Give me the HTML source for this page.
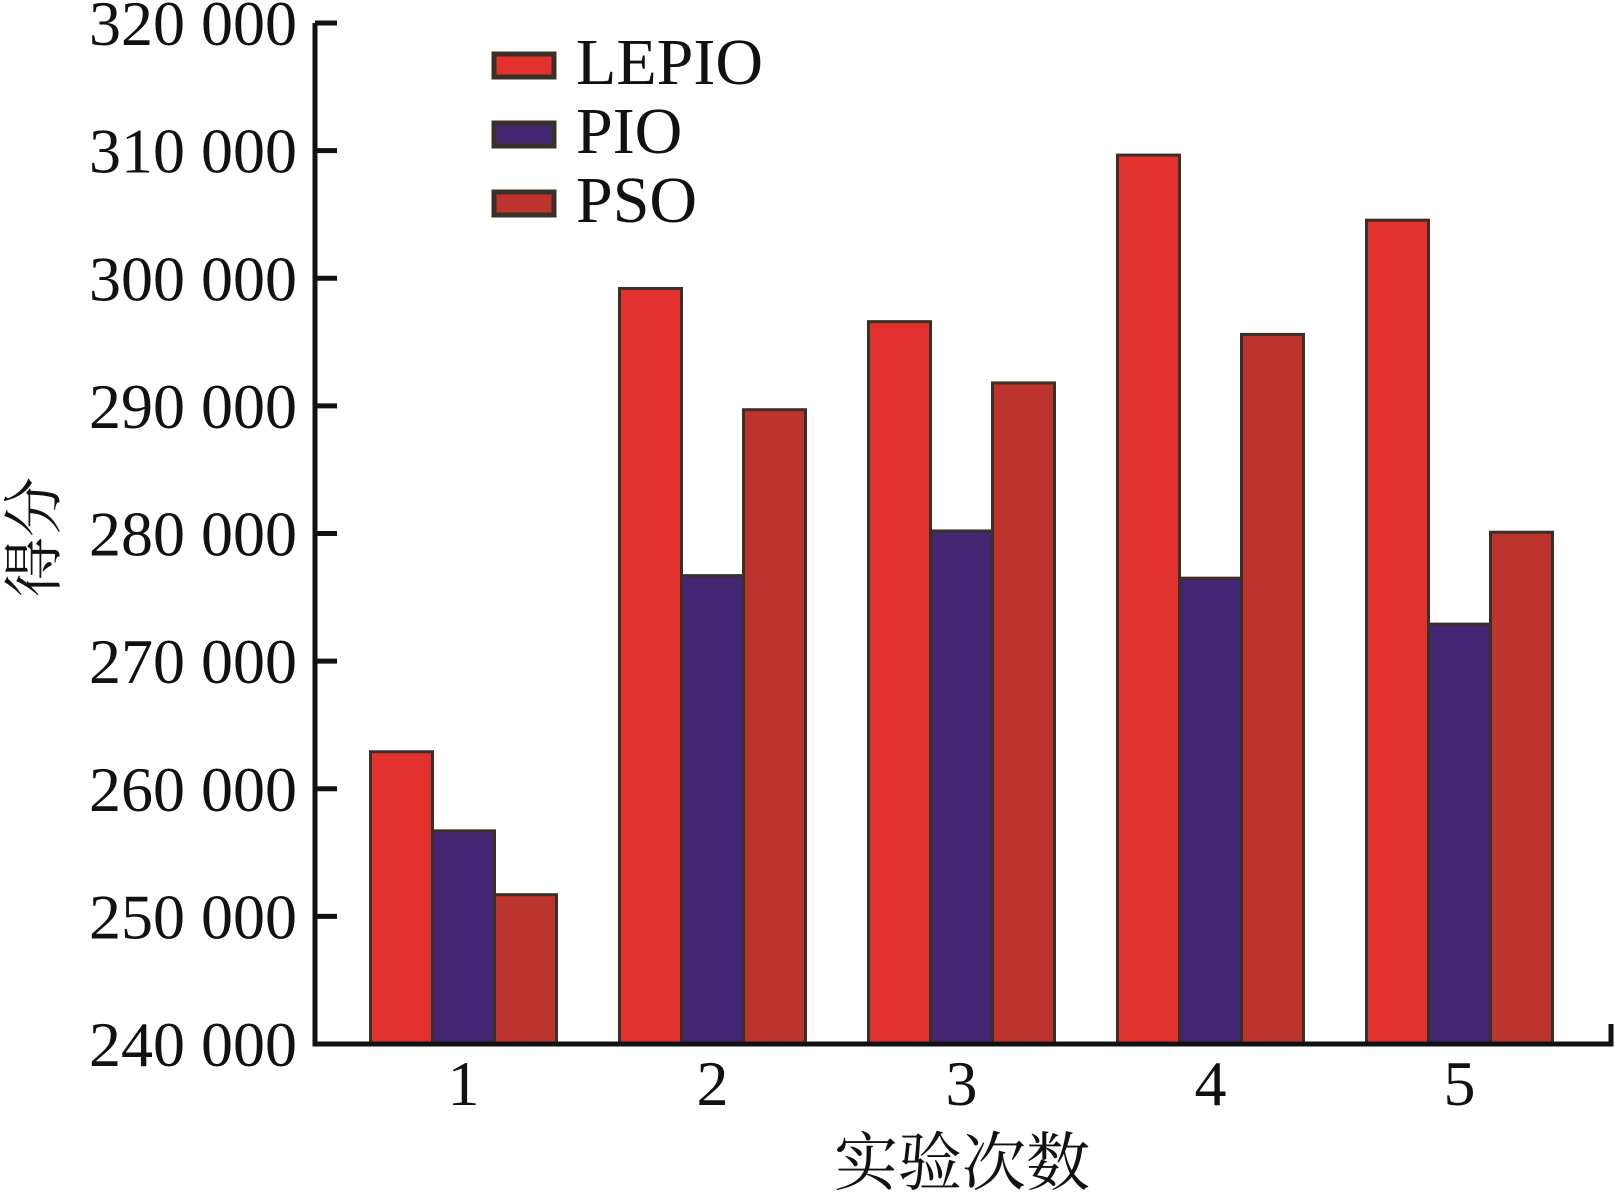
<!DOCTYPE html>
<html><head><meta charset="utf-8"><style>
html,body{margin:0;padding:0;background:#fff}
svg{display:block}
text{font-family:"Liberation Serif","Noto Serif CJK SC",serif;fill:#111}
</style></head><body>
<svg id="chart" width="1614" height="1197" viewBox="0 0 1614 1197" xmlns="http://www.w3.org/2000/svg"></svg>
<script>
const categories = ["1","2","3","4","5"];
const seriesNames = ["LEPIO","PIO","PSO"];
const lepio = [262900, 299200, 296600, 309650, 304550];
const pio = [256700, 276700, 280200, 276500, 272900];
const pso = [251700, 289700, 291800, 295600, 280100];
const yTicks = [240000,250000,260000,270000,280000,290000,300000,310000,320000];
const yTickLabels = ["240 000","250 000","260 000","270 000","280 000","290 000","300 000","310 000","320 000"];

const NS="http://www.w3.org/2000/svg";
const svg=document.getElementById('chart');
const colors=["#e3322d","#432671","#bd342e"];
const allSeries=[lepio,pio,pso];
const x0=315, x1=1611, yBot=1044, yTop=23;
function y(v){return yBot-(v-240000)/(320000-240000)*(yBot-yTop);}
const groupStart=370.5, groupStep=249, barW=62;
function bx(i,s){return groupStart+i*groupStep+s*barW;}
function mk(tag,attrs,parent){const e=document.createElementNS(NS,tag);for(const k in attrs)e.setAttribute(k,attrs[k]);(parent||svg).appendChild(e);return e;}

allSeries.forEach((ser,s)=>{
  ser.forEach((v,i)=>{
    const r=mk('rect',{x:bx(i,s),y:y(v),width:barW,height:yBot-y(v),fill:colors[s],stroke:'#3a3028','stroke-width':3});
    
    
  });
});
const ax=mk('path',{d:`M${x0} ${yTop} V${yBot} H${x1} V${yBot-20}`,fill:'none',stroke:'#111','stroke-width':5});


yTicks.forEach((t,i)=>{
  const l=mk('line',{x1:x0,x2:x0+22,y1:y(t),y2:y(t),stroke:'#111','stroke-width':5});
  
  
  const tx=mk('text',{x:297,y:y(t)+22,'text-anchor':'end','font-size':64});
  tx.textContent=yTickLabels[i];
  
  
});
categories.forEach((c,i)=>{
  const tx=mk('text',{x:groupStart+i*groupStep+1.5*barW,y:1105,'text-anchor':'middle','font-size':64});
  tx.textContent=c;
  
  
});
const xt=mk('text',{x:962,y:1185,'text-anchor':'middle','font-size':64});
xt.textContent="实验次数";


const yt=mk('text',{x:0,y:0,'text-anchor':'middle','font-size':60,transform:'translate(55,537) rotate(-90)'});
yt.textContent="得分";


seriesNames.forEach((n,s)=>{
  const top=54+s*69;
  const r=mk('rect',{x:494,y:top,width:60,height:23,fill:colors[s],stroke:'#3a3028','stroke-width':5});
  
  
  const tx=mk('text',{x:576,y:top+30,'font-size':66});
  tx.textContent=n;
  
  
});
</script>
</body></html>
